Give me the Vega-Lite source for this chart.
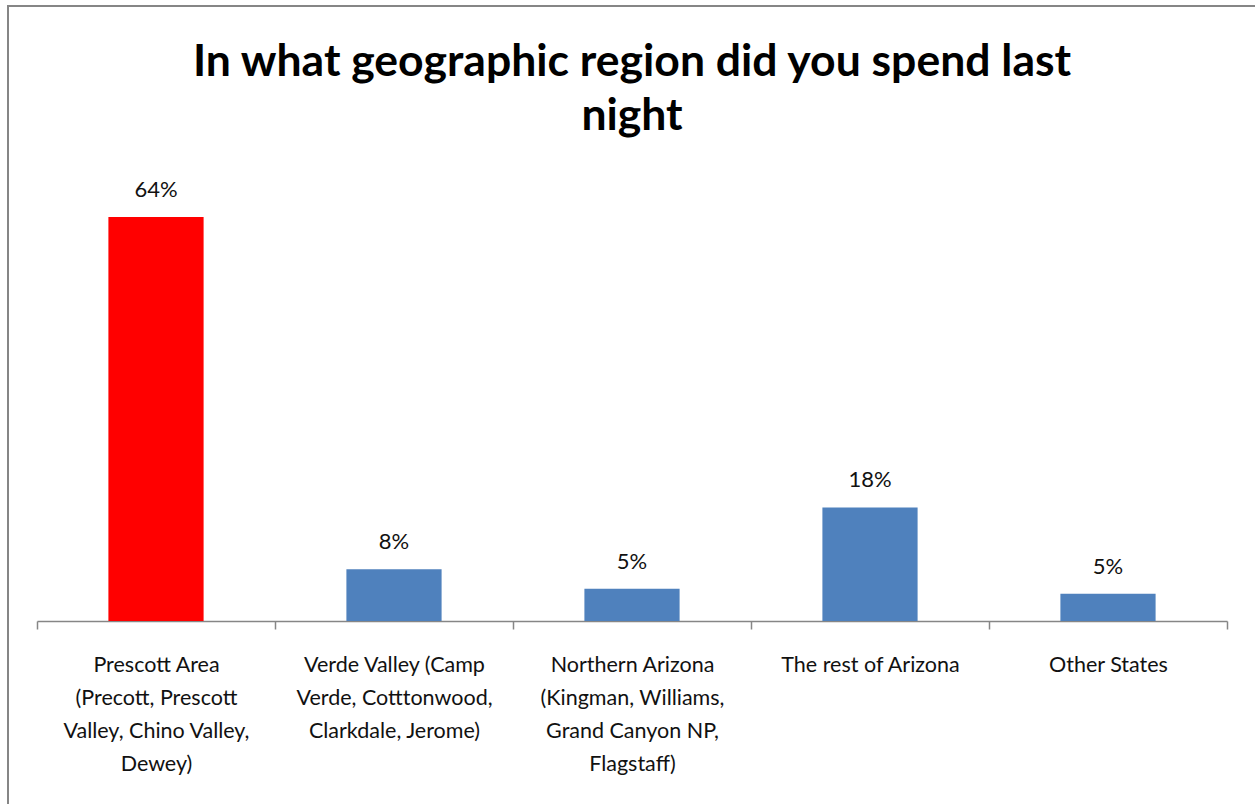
{
  "$schema": "https://vega.github.io/schema/vega-lite/v6.json",
  "width": 1248,
  "height": 810,
  "autosize": {"type": "none"},
  "padding": {"left": 8, "top": 6, "right": 0, "bottom": 0},
  "background": "white",
  "config": {"view": {"stroke": "#868686", "strokeWidth": 2, "fill": "white"}},
  "title": {
    "text": ["In what geographic region did you spend last", "night"],
    "font": "Lato",
    "fontSize": 44.5,
    "fontWeight": "bold",
    "color": "#000000",
    "anchor": "middle",
    "frame": "group",
    "baseline": "top",
    "offset": -133,
    "lineHeight": 54
  },
  "data": {
    "values": [
      {"region": "Prescott Area|(Precott, Prescott|Valley, Chino Valley,|Dewey)", "pct": 64.0, "label": "64%"},
      {"region": "Verde Valley (Camp|Verde, Cotttonwood,|Clarkdale, Jerome)", "pct": 8.2, "label": "8%"},
      {"region": "Northern Arizona|(Kingman, Williams,|Grand Canyon NP,|Flagstaff)", "pct": 5.1, "label": "5%"},
      {"region": "The rest of Arizona", "pct": 18.0, "label": "18%"},
      {"region": "Other States", "pct": 4.3, "label": "5%"}
    ]
  },
  "encoding": {
    "x": {
      "field": "region",
      "type": "nominal",
      "sort": null,
      "scale": {"range": [29, 1219], "paddingInner": 0, "paddingOuter": 0},
      "axis": {
        "title": null,
        "orient": "bottom",
        "offset": -195,
        "labelAngle": 0,
        "labelExpr": "split(datum.label, '|')",
        "labelFont": "Lato",
        "labelFontSize": 21.5,
        "labelColor": "#111111",
        "labelLineHeight": 33,
        "labelPadding": 25,
        "labelLimit": 400,
        "domainColor": "#868686",
        "domainWidth": 1.5,
        "tickColor": "#868686",
        "tickWidth": 1.5,
        "tickSize": 8,
        "tickBand": "extent",
        "grid": false
      }
    },
    "y": {
      "field": "pct",
      "type": "quantitative",
      "scale": {"domain": [0, 70], "range": [615, 173.125], "nice": false, "zero": true},
      "axis": null
    }
  },
  "layer": [
    {
      "mark": {"type": "bar", "width": {"band": 0.4}},
      "encoding": {
        "color": {"condition": {"test": "datum.pct > 50", "value": "#FF0000"}, "value": "#4F81BD"}
      }
    },
    {
      "mark": {"type": "text", "baseline": "alphabetic", "dy": -20, "font": "Lato", "fontSize": 22, "color": "#111111"},
      "encoding": {"text": {"field": "label"}}
    }
  ]
}
